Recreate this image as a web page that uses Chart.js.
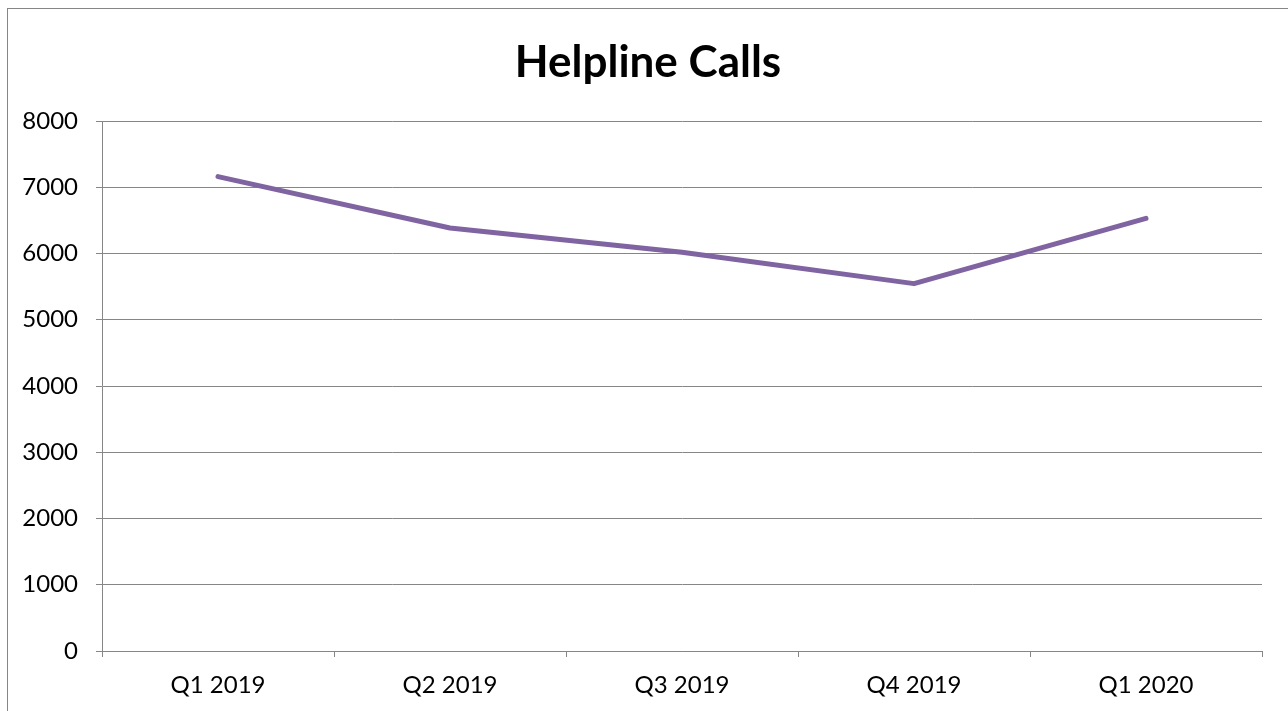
<!DOCTYPE html>
<html>
<head>
<meta charset="utf-8">
<script src="https://cdn.jsdelivr.net/npm/chart.js@4/dist/chart.umd.min.js"></script>
<style>
html,body{margin:0;padding:0;background:#fff;overflow:hidden;}
#wrap{position:absolute;left:0;top:0;width:1288px;height:711px;}
</style>
</head>
<body>
<div id="wrap"><canvas id="c" width="1288" height="711"></canvas></div>
<script>
const chartTitle = "Helpline Calls";
const categories = ["Q1 2019", "Q2 2019", "Q3 2019", "Q4 2019", "Q1 2020"];
const calls = [7160, 6385, 6020, 5545, 6530];
const yTicks = [0, 1000, 2000, 3000, 4000, 5000, 6000, 7000, 8000];

const FONT = "Lato, 'Open Sans', sans-serif";
const GRID = "#868686";

const borderPlugin = {
  id: 'outerBorder',
  beforeDraw(chart) {
    const ctx = chart.ctx;
    ctx.save();
    ctx.fillStyle = '#fff';
    ctx.fillRect(0, 0, chart.width, chart.height);
    ctx.strokeStyle = GRID;
    ctx.lineWidth = 1;
    ctx.strokeRect(7.5, 8.5, 1400, 800);
    ctx.restore();
  }
};

const titlePlugin = {
  id: 'titleText',
  afterDraw(chart) {
    const ctx = chart.ctx;
    ctx.save();
    ctx.font = "bold 44px " + FONT;
    ctx.fillStyle = '#000';
    ctx.textAlign = 'center';
    ctx.textBaseline = 'alphabetic';
    ctx.fillText(chartTitle, 648, 77);
    ctx.restore();
  }
};

new Chart(document.getElementById('c'), {
  type: 'line',
  data: {
    labels: categories,
    datasets: [{
      label: chartTitle,
      data: calls,
      borderColor: '#8064A2',
      backgroundColor: '#8064A2',
      borderWidth: 5,
      borderCapStyle: 'round',
      borderJoinStyle: 'round',
      pointRadius: 0,
      tension: 0
    }]
  },
  options: {
    responsive: false,
    animation: false,
    layout: { padding: { left: 0, right: 26, top: 121, bottom: 0 } },
    plugins: { legend: { display: false }, title: { display: false }, tooltip: { enabled: false } },
    scales: {
      x: {
        offset: true,
        grid: { offset: true, drawOnChartArea: false, drawTicks: true, tickLength: 6, color: GRID, lineWidth: 1 },
        border: { color: GRID, width: 1 },
        ticks: { color: '#000', font: { family: FONT, size: 24 }, padding: 14, maxRotation: 0 },
        afterFit(s) { s.height = 60; }
      },
      y: {
        min: 0, max: 8000,
        afterBuildTicks(s) { s.ticks = yTicks.map(v => ({ value: v })); },
        grid: { color: GRID, lineWidth: 1, tickLength: 6, drawTicks: true },
        border: { color: GRID, width: 1 },
        ticks: { color: '#000', font: { family: FONT, size: 24 }, padding: 18, callback: v => String(v) },
        afterFit(s) { s.width = 102; }
      }
    }
  },
  plugins: [borderPlugin, titlePlugin]
});
</script>
</body>
</html>
